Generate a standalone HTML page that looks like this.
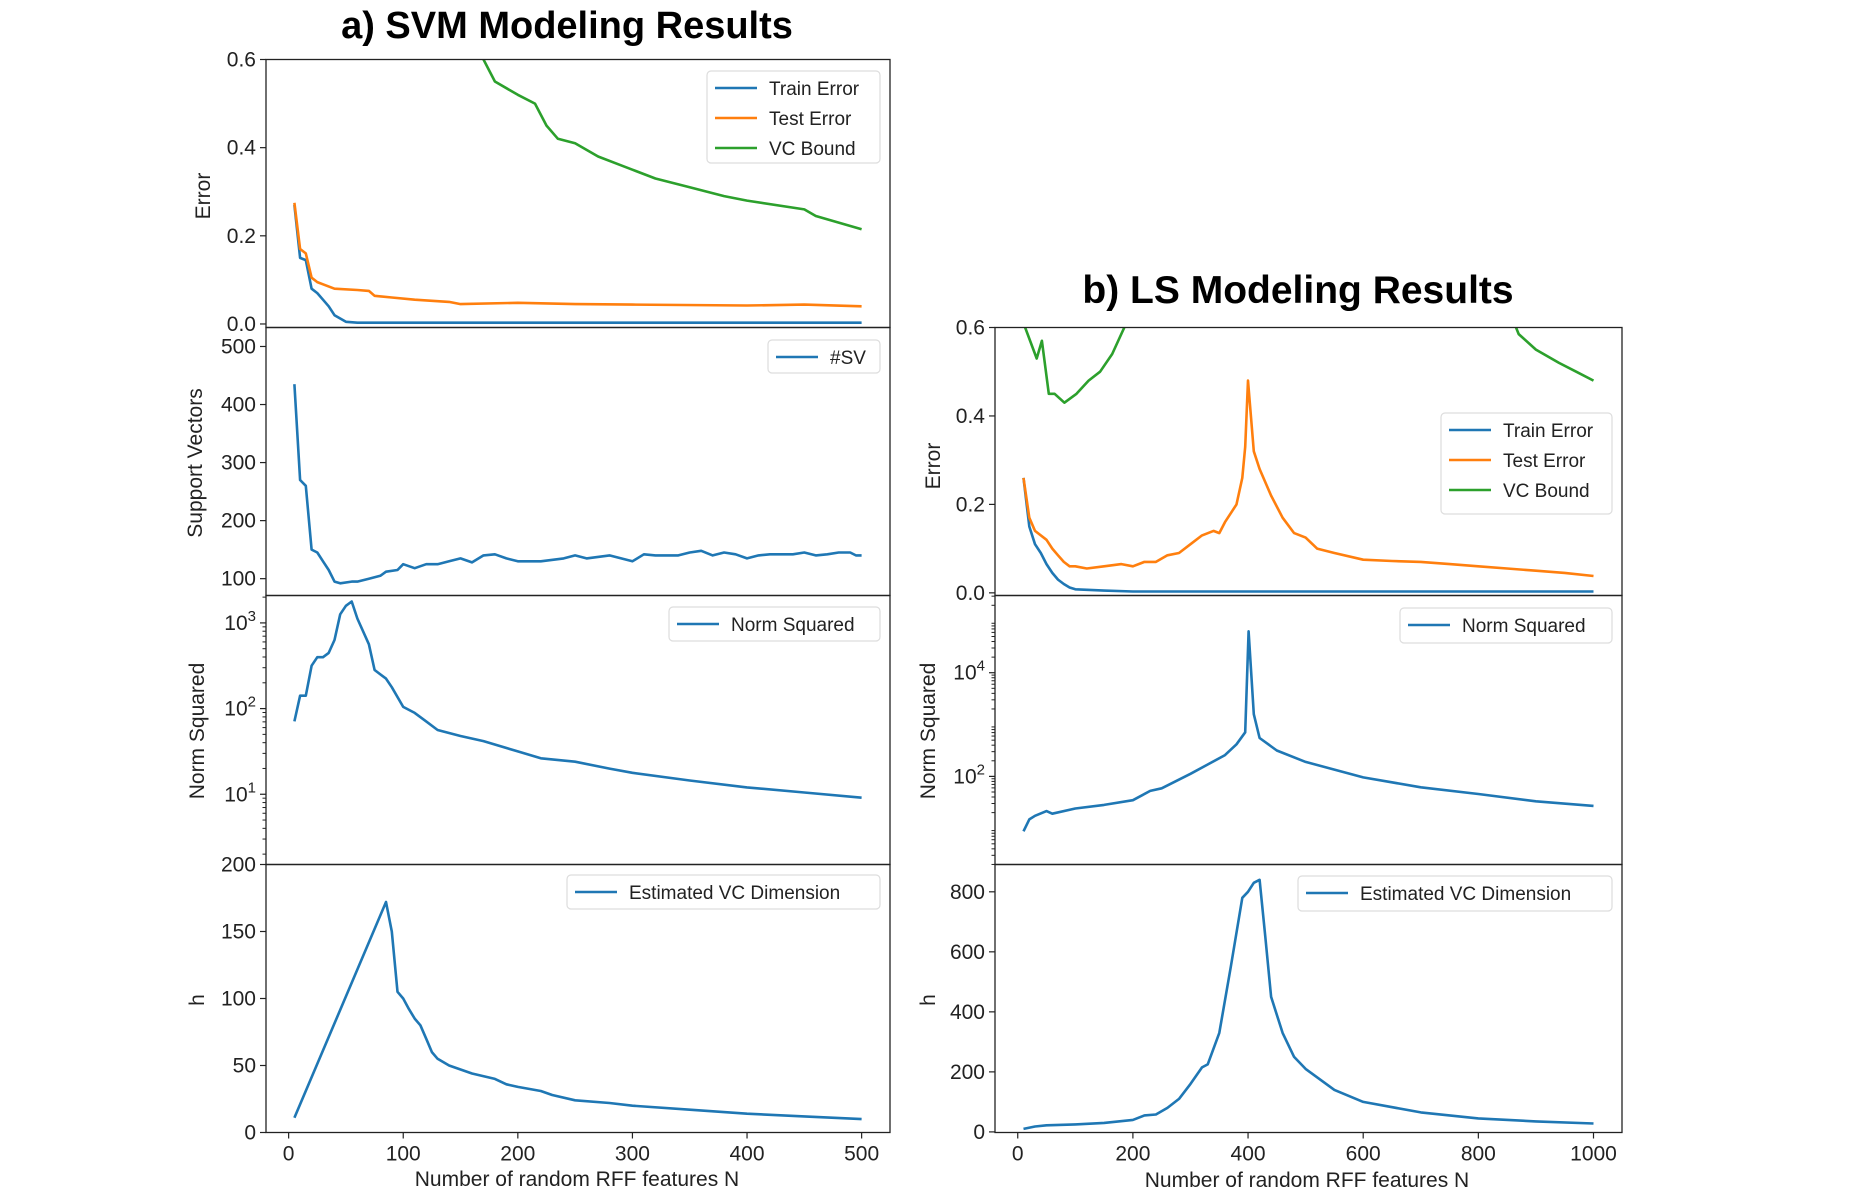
<!DOCTYPE html>
<html><head><meta charset="utf-8">
<style>
html,body{margin:0;padding:0;background:#fff;}
svg{display:block;font-family:"Liberation Sans",sans-serif;}
</style></head>
<body>
<svg id="fig" width="1867" height="1200" viewBox="0 0 1867 1200" xmlns="http://www.w3.org/2000/svg">
<text x="567" y="38" text-anchor="middle" font-size="38" font-weight="bold">a) SVM Modeling Results</text>
<text x="1298" y="303" text-anchor="middle" font-size="39" font-weight="bold">b) LS Modeling Results</text>
</svg>
<script>
// ---------- data: SVM (left) ----------
const svmTrainX = [5,10,15,20,25,30,35,40,50,60,100,200,300,400,500];
const svmTrainY = [0.27,0.15,0.145,0.08,0.07,0.055,0.04,0.02,0.005,0.003,0.003,0.003,0.003,0.003,0.003];
const svmTestX = [5,10,15,20,25,30,40,60,70,75,90,110,140,150,200,250,300,400,450,500];
const svmTestY = [0.275,0.17,0.16,0.105,0.095,0.09,0.08,0.077,0.075,0.064,0.06,0.055,0.05,0.045,0.048,0.045,0.044,0.042,0.044,0.04];
const svmVcX = [150,170,180,200,215,225,235,250,270,290,300,320,350,380,400,450,460,500];
const svmVcY = [0.8,0.6,0.55,0.52,0.5,0.45,0.42,0.41,0.38,0.36,0.35,0.33,0.31,0.29,0.28,0.26,0.245,0.215];
const svmSvX = [5,10,15,20,25,30,35,40,45,55,60,70,80,85,95,100,110,120,130,140,150,160,170,180,190,200,220,240,250,260,280,300,310,320,340,350,360,370,380,390,400,410,420,440,450,460,470,480,490,495,500];
const svmSvY = [435,270,260,150,145,130,115,95,92,95,95,100,105,112,115,125,118,125,125,130,135,128,140,142,135,130,130,135,140,135,140,130,142,140,140,145,148,140,145,142,135,140,142,142,145,140,142,145,145,140,140];
const svmNormX = [5,10,15,20,25,30,35,40,45,50,55,60,70,75,85,90,100,110,120,130,150,170,200,220,250,280,300,350,400,450,500];
const svmNormLog = [1.85,2.15,2.15,2.5,2.6,2.6,2.65,2.8,3.1,3.2,3.25,3.05,2.75,2.45,2.35,2.25,2.02,1.95,1.85,1.75,1.68,1.62,1.5,1.42,1.38,1.3,1.25,1.16,1.08,1.02,0.96];
const svmHX = [5,85,90,95,100,105,110,115,120,125,130,140,160,180,190,200,220,230,250,280,300,350,400,450,500];
const svmHY = [11,172,150,105,100,92,85,80,70,60,55,50,44,40,36,34,31,28,24,22,20,17,14,12,10];
// ---------- data: LS (right) ----------
const lsTrainX = [10,20,30,40,50,60,70,80,90,100,150,200,400,600,800,1000];
const lsTrainY = [0.26,0.15,0.11,0.09,0.065,0.045,0.03,0.02,0.012,0.008,0.005,0.003,0.003,0.003,0.003,0.003];
const lsTestX = [10,20,30,50,60,70,80,90,100,120,150,180,200,220,240,260,280,300,320,340,350,360,370,380,390,395,400,410,420,440,460,480,500,520,550,600,650,700,750,800,850,900,950,1000];
const lsTestY = [0.26,0.17,0.14,0.12,0.1,0.085,0.07,0.06,0.06,0.055,0.06,0.065,0.06,0.07,0.07,0.085,0.09,0.11,0.13,0.14,0.135,0.16,0.18,0.2,0.26,0.33,0.48,0.32,0.28,0.22,0.17,0.135,0.125,0.1,0.09,0.075,0.072,0.07,0.065,0.06,0.055,0.05,0.045,0.038];
const lsVcX = [10,33,42,54,64,81,102,123,143,164,185,195,250,800,850,870,900,940,970,1000];
const lsVcY = [0.61,0.53,0.57,0.45,0.45,0.43,0.45,0.48,0.5,0.54,0.6,0.7,1.5,1.5,0.65,0.585,0.55,0.52,0.5,0.48];
const lsNormX = [10,20,30,50,60,100,150,200,230,250,300,330,360,380,395,401,410,420,450,500,600,700,800,900,1000];
const lsNormLog = [0.94,1.17,1.24,1.33,1.28,1.38,1.45,1.54,1.72,1.77,2.05,2.23,2.41,2.62,2.85,4.8,3.2,2.74,2.5,2.28,1.98,1.79,1.66,1.52,1.43];
const lsHX = [10,30,50,100,150,200,220,240,260,280,300,320,330,350,370,390,400,410,420,430,440,460,480,500,550,600,700,800,900,1000];
const lsHY = [10,18,22,25,30,40,55,58,80,110,160,215,225,330,550,780,800,830,840,650,450,330,250,210,140,100,65,45,35,28];
// ticks
const svmXTicks = [0,100,200,300,400,500];
const lsXTicks = [0,200,400,600,800,1000];
const errTicks = [0.0,0.2,0.4,0.6];
const svTicks = [100,200,300,400,500];
const svmNormTicks = [1,2,3];
const lsNormTicks = [2,4];
const svmHTicks = [0,50,100,150,200];
const lsHTicks = [0,200,400,600,800];

const NS = "http://www.w3.org/2000/svg";
const svg = document.getElementById('fig');
const C = {blue:"#1f77b4", orange:"#ff7f0e", green:"#2ca02c"};
let clipId = 0;
function mk(tag, attrs, parent){ const e=document.createElementNS(NS,tag); for(const k in attrs) e.setAttribute(k,attrs[k]); (parent||svg).appendChild(e); return e; }
function scale(d0,d1,p0,p1){ return v => p0 + (v-d0)/(d1-d0)*(p1-p0); }

function panel(name, box, xd, yd, opts){
  const g = mk('g',{});
  
  
  const sx = scale(xd[0],xd[1],box.l,box.r), sy = scale(yd[0],yd[1],box.b,box.t);
  clipId++;
  const cp = mk('clipPath',{id:'c'+clipId}, g);
  mk('rect',{x:box.l,y:box.t,width:box.r-box.l,height:box.b-box.t}, cp);
  opts.series.forEach(s=>{
    const d = s.x.map((v,i)=>(i?'L':'M')+sx(v).toFixed(1)+','+sy(s.y[i]).toFixed(1)).join('');
    const p = mk('path',{d:d,fill:'none',stroke:s.color,'stroke-width':2.6,'stroke-linejoin':'round','clip-path':'url(#c'+clipId+')'}, g);
    
    
  });
  const fr = mk('rect',{x:box.l,y:box.t,width:box.r-box.l,height:box.b-box.t,fill:'none',stroke:'#222','stroke-width':1.3}, g);
  
  
  opts.yticks.forEach(t=>{
    const y = sy(t);
    mk('line',{x1:box.l-6,x2:box.l,y1:y,y2:y,stroke:'#222','stroke-width':1.2}, g);
    const tx = mk('text',{x:box.l-10,y:y+7,'text-anchor':'end','font-size':21,fill:'#222'}, g);
    
    
    if(opts.log){
      tx.textContent = '10';
      const sp = mk('tspan',{dy:-9,'font-size':15}, tx); sp.textContent = String(t);
    } else tx.textContent = opts.yfmt ? opts.yfmt(t) : String(t);
  });
  if(opts.log){
    for(let d=Math.floor(yd[0]); d<yd[1]; d++) for(let m=2;m<10;m++){
      const v=d+Math.log10(m); if(v<yd[0]||v>yd[1]) continue;
      mk('line',{x1:box.l-3.5,x2:box.l,y1:sy(v),y2:sy(v),stroke:'#222','stroke-width':1}, g);
    }
  }
  if(opts.xticks){
    opts.xticks.forEach(t=>{
      const x = sx(t);
      mk('line',{x1:x,x2:x,y1:box.b,y2:box.b+6,stroke:'#222','stroke-width':1.2}, g);
      const tx = mk('text',{x:x,y:box.b+28,'text-anchor':'middle','font-size':21,fill:'#222'}, g);
      
      
      tx.textContent = String(t);
    });
  }
  const yl = mk('text',{x:0,y:0,'text-anchor':'middle','font-size':21,fill:'#222',transform:'translate('+opts.ylx+','+opts.yly+') rotate(-90)'}, g);
  
  
  yl.textContent = opts.ylabel;
  const L = opts.legend;
  const lg = mk('g',{}, g);
  
  
  mk('rect',{x:L.x,y:L.y,width:L.w,height:L.h,rx:4,fill:'#fff',stroke:'#ddd','stroke-width':1.2,'fill-opacity':0.85}, lg);
  L.items.forEach((it,i)=>{
    const yy = L.y + 17 + i*30;
    const ln = mk('line',{x1:L.x+8,x2:L.x+50,y1:yy,y2:yy,stroke:it.color,'stroke-width':2.6}, lg);
    
    
    const tx = mk('text',{x:L.x+62,y:yy+7,'font-size':19,fill:'#222'}, lg);
    
    
    tx.textContent = it.label;
  });
}
const f1 = v=>v.toFixed(1);
const LL=266, LR=890, RL=995, RR=1622;
const svmX=[-19.75,524.75], lsX=[-39.5,1049.5];

panel('svm-error',{l:LL,r:LR,t:59.5,b:327.5},svmX,[-0.008,0.6],{
  series:[{key:'train',x:svmTrainX,y:svmTrainY,color:C.blue},{key:'test',x:svmTestX,y:svmTestY,color:C.orange},{key:'vc-bound',x:svmVcX,y:svmVcY,color:C.green}],
  yticks:errTicks,yfmt:f1,ylabel:'Error',ylx:210,yly:196,
  legend:{x:707,y:71,w:173,h:92,items:[{label:'Train Error',color:C.blue},{label:'Test Error',color:C.orange},{label:'VC Bound',color:C.green}]}});
panel('svm-sv',{l:LL,r:LR,t:327.5,b:595.5},svmX,[71,532.7],{
  series:[{key:'sv',x:svmSvX,y:svmSvY,color:C.blue}],
  yticks:svTicks,ylabel:'Support Vectors',ylx:202,yly:463,
  legend:{x:768,y:340,w:112,h:33,items:[{label:'#SV',color:C.blue}]}});
panel('svm-norm',{l:LL,r:LR,t:595.5,b:864.5},svmX,[0.18,3.32],{
  series:[{key:'norm',x:svmNormX,y:svmNormLog,color:C.blue}],
  yticks:svmNormTicks,log:true,ylabel:'Norm Squared',ylx:204,yly:731,
  legend:{x:669,y:607,w:211,h:34,items:[{label:'Norm Squared',color:C.blue}]}});
panel('svm-h',{l:LL,r:LR,t:864.5,b:1132.5},svmX,[0,200],{
  series:[{key:'h',x:svmHX,y:svmHY,color:C.blue}],
  yticks:svmHTicks,xticks:svmXTicks,ylabel:'h',ylx:204,yly:1000,
  legend:{x:567,y:875,w:313,h:34,items:[{label:'Estimated VC Dimension',color:C.blue}]}});

panel('ls-error',{l:RL,r:RR,t:327.5,b:595.5},lsX,[-0.006,0.6],{
  series:[{key:'train',x:lsTrainX,y:lsTrainY,color:C.blue},{key:'test',x:lsTestX,y:lsTestY,color:C.orange},{key:'vc-bound',x:lsVcX,y:lsVcY,color:C.green}],
  yticks:errTicks,yfmt:f1,ylabel:'Error',ylx:940,yly:466,
  legend:{x:1441,y:413,w:171,h:101,items:[{label:'Train Error',color:C.blue},{label:'Test Error',color:C.orange},{label:'VC Bound',color:C.green}]}});
panel('ls-norm',{l:RL,r:RR,t:595.5,b:864.5},lsX,[0.30,5.49],{
  series:[{key:'norm',x:lsNormX,y:lsNormLog,color:C.blue}],
  yticks:lsNormTicks,log:true,ylabel:'Norm Squared',ylx:935,yly:731,
  legend:{x:1400,y:608,w:212,h:35,items:[{label:'Norm Squared',color:C.blue}]}});
panel('ls-h',{l:RL,r:RR,t:864.5,b:1132.5},lsX,[-2,891],{
  series:[{key:'h',x:lsHX,y:lsHY,color:C.blue}],
  yticks:lsHTicks,xticks:lsXTicks,ylabel:'h',ylx:935,yly:1000,
  legend:{x:1298,y:876,w:314,h:35,items:[{label:'Estimated VC Dimension',color:C.blue}]}});

const xl1 = mk('text',{x:577,y:1186,'text-anchor':'middle','font-size':21,fill:'#222'});


xl1.textContent = 'Number of random RFF features N';
const xl2 = mk('text',{x:1307,y:1187,'text-anchor':'middle','font-size':21,fill:'#222'});


xl2.textContent = 'Number of random RFF features N';
</script>
</body></html>
